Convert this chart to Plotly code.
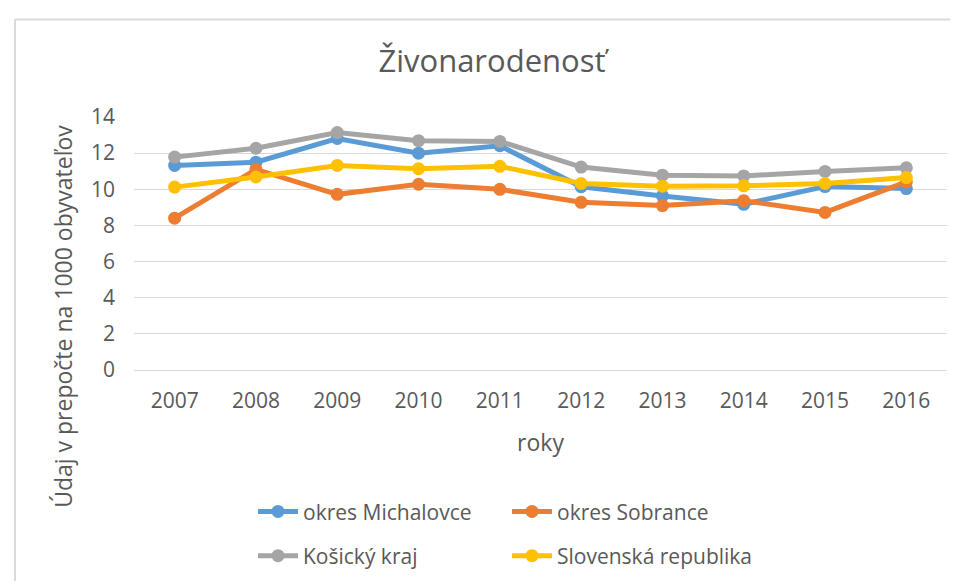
import plotly.graph_objects as go

years = ["2007", "2008", "2009", "2010", "2011", "2012", "2013", "2014", "2015", "2016"]
michalovce = [11.32, 11.5, 12.81, 12.0, 12.41, 10.14, 9.63, 9.17, 10.15, 10.04]
sobrance = [8.4, 11.1, 9.72, 10.28, 10.0, 9.28, 9.1, 9.37, 8.72, 10.41]
kosicky = [11.78, 12.27, 13.14, 12.69, 12.65, 11.23, 10.78, 10.74, 10.99, 11.19]
slovensko = [10.12, 10.68, 11.32, 11.14, 11.27, 10.32, 10.17, 10.19, 10.32, 10.65]
y_ticks = [0, 2, 4, 6, 8, 10, 12, 14]

series = [
    ("okres Michalovce", michalovce, "#5B9BD5", "legend"),
    ("okres Sobrance", sobrance, "#ED7D31", "legend"),
    ("Košický kraj", kosicky, "#A5A5A5", "legend2"),
    ("Slovenská republika", slovensko, "#FFC000", "legend2"),
]

FONT = "Open Sans"
TXT = "#595959"

fig = go.Figure()
for name, vals, color, lg in series:
    fig.add_trace(go.Scatter(
        x=years, y=vals, name=name, mode="lines+markers",
        line=dict(color=color, width=5),
        marker=dict(color=color, size=13),
        legend=lg,
    ))

W, H = 958, 581
L, R, T, B = 126, 19, 109, 215
pw, ph = W - L - R, H - T - B

def px_x(px):
    return (px - L) / pw

def px_y(py):
    return (H - B - py) / ph

leg_common = dict(orientation="h", xref="paper", xanchor="left", yanchor="middle",
                  entrywidth=199, entrywidthmode="pixels",
                  font=dict(size=21, family=FONT, color=TXT),
                  bgcolor="rgba(0,0,0,0)", itemwidth=40)

fig.update_layout(
    width=W, height=H,
    margin=dict(l=L, r=R, t=T, b=B),
    paper_bgcolor="white", plot_bgcolor="white",
    font=dict(family=FONT, color=TXT, size=21),
    title=dict(text="Živonarodenosť", x=px_x(484), xref="paper", xanchor="center",
               y=1 - 53 / H, yanchor="middle",
               font=dict(size=31, family=FONT, color=TXT)),
    showlegend=True,
    legend=dict(x=px_x(245), y=px_y(510), **leg_common),
    legend2=dict(x=px_x(245), y=px_y(555), **leg_common),
    xaxis=dict(
        type="category", range=[-0.5, 9.5], showgrid=False, showline=True,
        linecolor="#D9D9D9", linewidth=1,
        ticks="", tickfont=dict(size=21, family=FONT, color=TXT), ticklabelstandoff=12,
        title=dict(text="roky", font=dict(size=23, family=FONT, color=TXT), standoff=21),
        fixedrange=True,
    ),
    yaxis=dict(
        range=[0, 14], tickvals=y_ticks, ticktext=[str(v) for v in y_ticks],
        showgrid=True, gridcolor="#D9D9D9", gridwidth=1, zeroline=False,
        showline=False, ticks="", ticklabelstandoff=18,
        tickfont=dict(size=21, family=FONT, color=TXT),
        fixedrange=True,
    ),
    annotations=[dict(
        text="Údaj v prepočte na 1000 obyvateľov", textangle=-90,
        xref="paper", yref="paper", x=px_x(55), y=px_y(312),
        xanchor="center", yanchor="middle", showarrow=False,
        font=dict(size=23, family=FONT, color=TXT),
    )],
    shapes=[
        dict(type="line", xref="paper", yref="paper", x0=px_x(7), x1=px_x(7),
             y0=px_y(10), y1=px_y(H + 5), line=dict(color="#D9D9D9", width=2)),
        dict(type="line", xref="paper", yref="paper", x0=px_x(7), x1=px_x(W + 5),
             y0=px_y(10), y1=px_y(10), line=dict(color="#D9D9D9", width=2)),
    ],
)

fig.write_html("out.html")
